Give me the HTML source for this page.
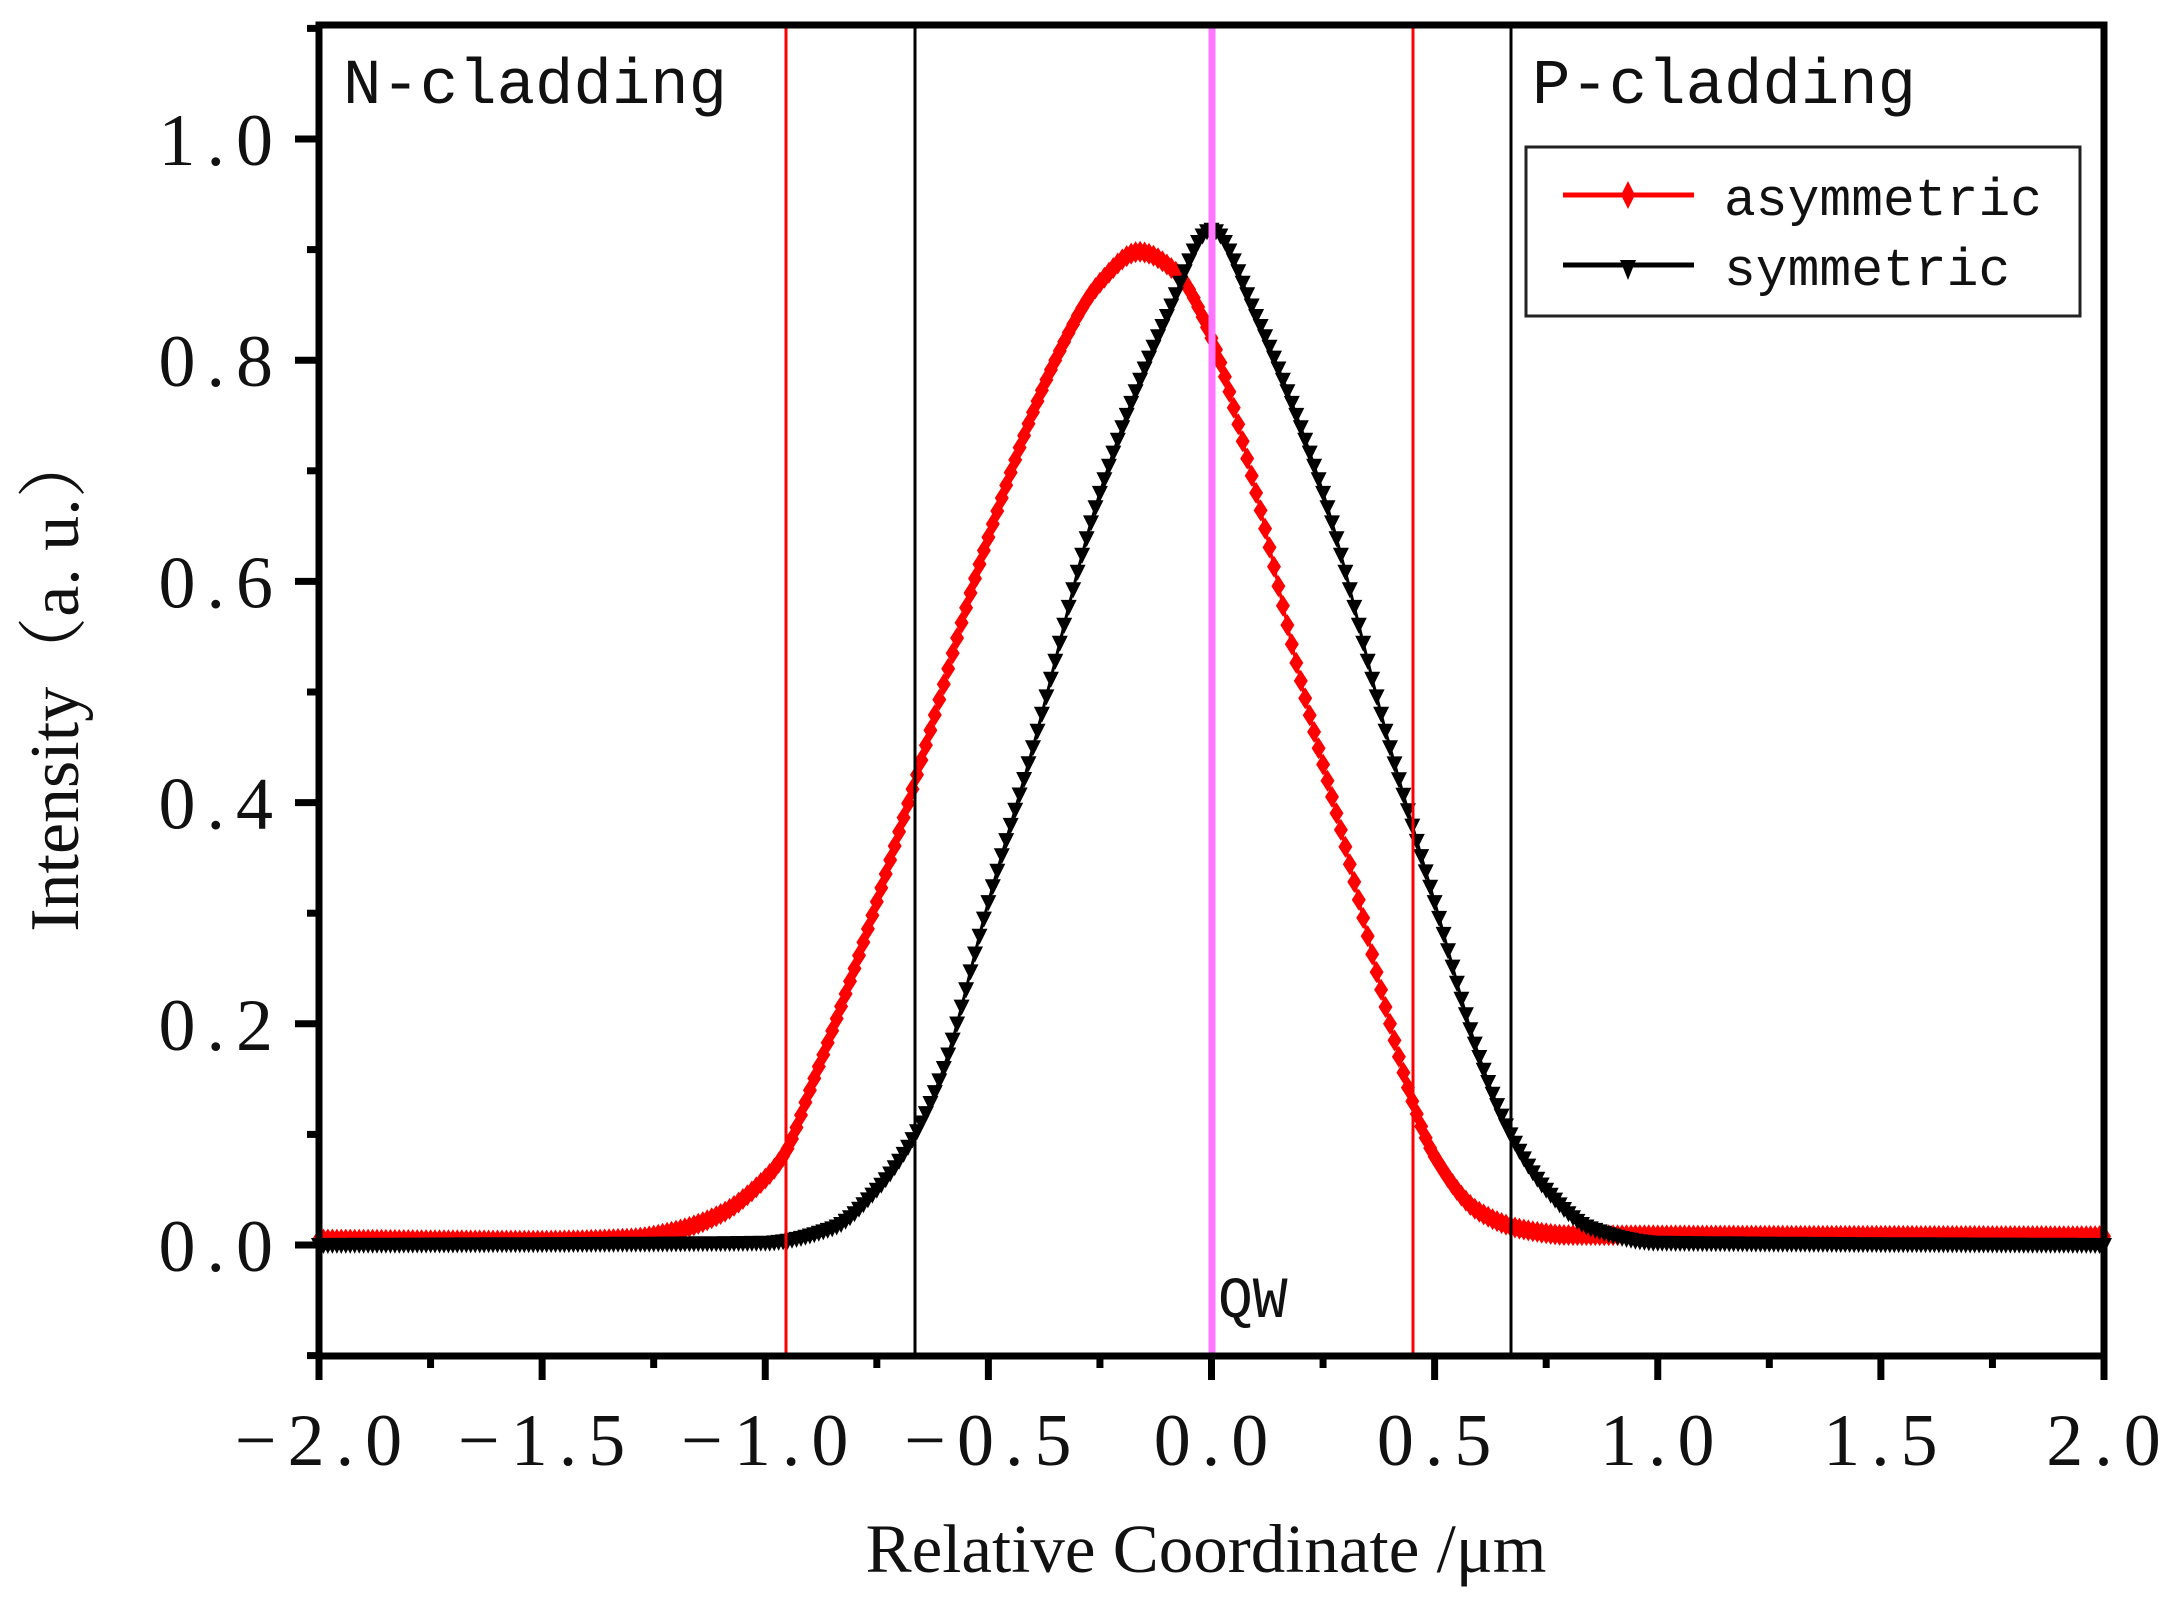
<!DOCTYPE html>
<html><head><meta charset="utf-8"><style>
html,body{margin:0;padding:0;background:#fff;}
svg{display:block;}
</style></head><body>
<svg id="s" width="2174" height="1624" viewBox="0 0 2174 1624" xmlns="http://www.w3.org/2000/svg">
<rect width="2174" height="1624" fill="#fff"/>
<g id="curves"></g>
<line x1="786" y1="25" x2="786" y2="1356" stroke="#f00" stroke-width="3"/>
<line x1="1413" y1="25" x2="1413" y2="1356" stroke="#f00" stroke-width="3"/>
<line x1="915" y1="25" x2="915" y2="1356" stroke="#000" stroke-width="3"/>
<line x1="1511" y1="25" x2="1511" y2="1356" stroke="#000" stroke-width="3"/>
<line x1="1212" y1="25" x2="1212" y2="1356" stroke="#f7f" stroke-width="7"/>
<g id="ticks" stroke="#000"></g>
<rect x="319" y="25" width="1785" height="1331" fill="none" stroke="#000" stroke-width="7"/>
<g font-family="Liberation Mono, monospace" font-size="64" fill="#111">
<text x="343" y="103">N-cladding</text>
<text x="1532" y="103">P-cladding</text>
<text x="1218" y="1317" font-size="58">QW</text>
</g>
<rect x="1526" y="147" width="554" height="169" fill="#fff" stroke="#222" stroke-width="3"/>
<line x1="1563" y1="195" x2="1694" y2="195" stroke="#f00" stroke-width="5"/>
<polygon points="1628,181 1635,195 1628,209 1621,195" fill="#f00"/>
<line x1="1563" y1="265" x2="1694" y2="265" stroke="#000" stroke-width="5"/>
<polygon points="1620,260 1636,260 1628,280" fill="#000"/>
<g font-family="Liberation Mono, monospace" font-size="53" fill="#111">
<text x="1724" y="215">asymmetric</text>
<text x="1724" y="285">symmetric</text>
</g>
<g id="labels" font-family="Liberation Serif, serif" font-size="74" fill="#111"></g>
<text x="1206" y="1572" font-family="Liberation Serif, serif" font-size="69" text-anchor="middle" fill="#111">Relative Coordinate /μm</text>
<text transform="translate(78,680) rotate(-90)" font-family="Liberation Serif, 'Noto Serif CJK SC', serif" font-size="70" text-anchor="middle" fill="#111">Intensity（a. u.）</text>
</svg>
<script>
const NS="http://www.w3.org/2000/svg";
const X=x=>319+(x+2)*446.25, Y=y=>1245-y*1106;
function el(p,t,a){const e=document.createElementNS(NS,t);for(const k in a)e.setAttribute(k,a[k]);p.appendChild(e);return e;}
const tk=document.getElementById('ticks'), lb=document.getElementById('labels');
for(let i=0;i<=16;i++){const x=-2+i*0.25;const maj=i%2==0;
 el(tk,'line',{x1:X(x),x2:X(x),y1:1356,y2:1356+(maj?24:12),'stroke-width':7});
 if(maj){const t=el(lb,'text',{x:X(x)+5,y:1465,'text-anchor':'middle','letter-spacing':'11'});t.textContent=(x<0?'−':'')+Math.abs(x).toFixed(1);}}
for(let i=-1;i<=11;i++){const y=i*0.1;const maj=i>=0&&i%2==0;
 el(tk,'line',{x1:319,x2:319-(maj?24:12),y1:Y(y),y2:Y(y),'stroke-width':7});
 if(maj){const t=el(lb,'text',{x:284,y:Y(y)+26,'text-anchor':'end','letter-spacing':'11'});t.textContent=y.toFixed(1);}}
function interp(p,x){if(x<=p[0][0])return p[0][1];const n=p.length;
 for(let i=1;i<n;i++){if(x<=p[i][0]){const a=p[i-1],b=p[i];const h=b[0]-a[0],t=(x-a[0])/h;
  const sl=(k)=>{if(k<=0)return (p[1][1]-p[0][1])/(p[1][0]-p[0][0]);if(k>=n-1)return (p[n-1][1]-p[n-2][1])/(p[n-1][0]-p[n-2][0]);
   const s1=(p[k][1]-p[k-1][1])/(p[k][0]-p[k-1][0]),s2=(p[k+1][1]-p[k][1])/(p[k+1][0]-p[k][0]);if(s1*s2<=0)return 0;return 2/(1/s1+1/s2);};
  const m0=sl(i-1),m1=sl(i);const t2=t*t,t3=t2*t;
  return (2*t3-3*t2+1)*a[1]+(t3-2*t2+t)*h*m0+(-2*t3+3*t2)*b[1]+(t3-t2)*h*m1;}}return p[n-1][1];}
const red=[[-2,0.005],[-1.5,0.004],[-1.3,0.006],[-1.2,0.013],[-1.1,0.028],[-1.0,0.06],[-0.953,0.085],[-0.9,0.14],[-0.8,0.25],[-0.664,0.42],[-0.5,0.64],[-0.35,0.80],[-0.25,0.87],[-0.163,0.898],[-0.08,0.88],[0,0.82],[0.1,0.68],[0.2,0.51],[0.3,0.36],[0.4,0.2],[0.45,0.13],[0.5,0.08],[0.6,0.03],[0.7,0.014],[0.8,0.009],[2,0.008]];
const blk=[[-2,0],[-1.0,0.002],[-0.85,0.015],[-0.75,0.05],[-0.664,0.10],[-0.6,0.16],[-0.5,0.31],[-0.4,0.45],[-0.25,0.68],[-0.1,0.84],[0,0.918],[0.1,0.84],[0.25,0.68],[0.4,0.45],[0.5,0.31],[0.6,0.17],[0.67,0.10],[0.75,0.05],[0.85,0.015],[1.0,0.002],[2,0]];
const g=document.getElementById('curves');
function draw(pts,col,mk){let d='';let m='';
 for(let x=-2;x<=2.004;x+=0.002){d+=(d?'L':'M')+X(x).toFixed(1)+','+Y(interp(pts,x)).toFixed(1);}
 for(let x=-2;x<=2.0001;x+=0.01){const px=X(x),py=Y(interp(pts,x));
  if(mk=='d')m+=`M${px.toFixed(1)},${(py-11).toFixed(1)}l7,11l-7,11l-7,-11z`;
  else m+=`M${(px-8).toFixed(1)},${(py-7).toFixed(1)}h16l-8,16z`;}
 el(g,'path',{d:d,fill:'none',stroke:col,'stroke-width':3});
 el(g,'path',{d:m,fill:col});}
draw(red,'#f00','d');draw(blk,'#000','t');
</script>
</body></html>
